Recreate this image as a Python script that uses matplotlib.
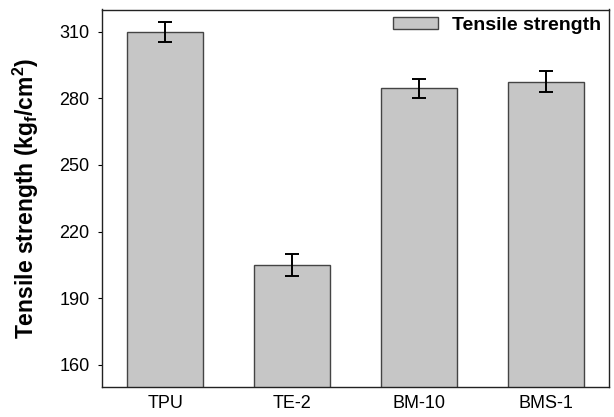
import matplotlib
matplotlib.use('Agg')
import matplotlib.pyplot as plt
import numpy as np

plt.rcParams['font.family'] = ['Liberation Sans', 'DejaVu Sans']
plt.rcParams['mathtext.fontset'] = 'custom'
plt.rcParams['mathtext.rm'] = 'Liberation Sans:bold'
plt.rcParams['mathtext.it'] = 'Liberation Sans:bold'
plt.rcParams['mathtext.bf'] = 'Liberation Sans:bold'

# 样品与拉伸强度
samples = ['TPU', 'TE-2', 'BM-10', 'BMS-1']
strength = [310, 205, 284.5, 287.5]
errors = [4.5, 5.0, 4.2, 4.6]

fig = plt.figure(figsize=(6.14, 4.17), dpi=100)
ax = fig.add_axes([102 / 614, 1 - 387 / 417, 507 / 614, 377.5 / 417])

x = np.arange(len(samples))
ax.bar(x, strength, width=0.6, color='#c6c6c6', edgecolor='#444444',
       linewidth=1.0, label='Tensile strength', zorder=2)
ax.errorbar(x, strength, yerr=errors, fmt='none', ecolor='black',
            elinewidth=1.4, capsize=5, capthick=1.4, zorder=3)

ax.set_xlim(-0.5, 3.5)
ax.set_ylim(150, 320)
ax.set_yticks([160, 190, 220, 250, 280, 310])
ax.set_xticks(x)
ax.set_xticklabels(samples, fontsize=13)
ax.tick_params(axis='x', length=0, pad=6)
ax.tick_params(axis='y', direction='out', length=3, labelsize=13, pad=6)

for sp in ax.spines.values():
    sp.set_linewidth(1.0)
    sp.set_color('#222222')

ax.set_ylabel('Tensile strength (kg$_f$/cm$^2$)', fontsize=16.5,
              fontweight='bold', labelpad=13)

leg = ax.legend(loc='upper right', frameon=False, fontsize=14,
                handlelength=2.3, handleheight=0.57, borderaxespad=0.0,
                handletextpad=0.75)
for t in leg.get_texts():
    t.set_fontweight('bold')

plt.savefig('out.png', dpi=100, facecolor='white')
